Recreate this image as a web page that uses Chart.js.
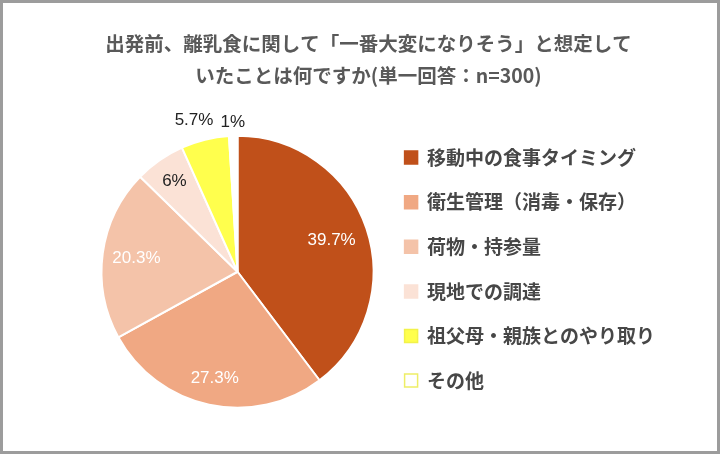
<!DOCTYPE html>
<html lang="ja">
<head>
<meta charset="utf-8">
<title>離乳食 想定</title>
<script src="https://cdn.jsdelivr.net/npm/chart.js@4.4.1/dist/chart.umd.min.js"></script>
<style>
  html, body { margin: 0; padding: 0; background: #fff; }
  .frame {
    width: 720px;
    height: 454px;
    box-sizing: border-box;
    border: 3px solid #9c9c9c;
    background: #fff;
  }
  .box { position: relative; width: 714px; height: 448px; }
</style>
</head>
<body>
<div class="frame">
  <div class="box"><canvas id="chartPie"></canvas></div>
</div>
<script>
const categories = [
  '移動中の食事タイミング',
  '衛生管理（消毒・保存）',
  '荷物・持参量',
  '現地での調達',
  '祖父母・親族とのやり取り',
  'その他'
];
const percents = [39.7, 27.3, 20.3, 6, 5.7, 1];
const percentLabels = ['39.7%', '27.3%', '20.3%', '6%', '5.7%', '1%'];

const sliceColors = ['#c0501a', '#f0a883', '#f4c3a9', '#fbe2d6', '#ffff4d', '#ffffff'];
const legendStroke = ['#c0501a', '#f0a883', '#f4c3a9', '#fbe2d6', '#f2f24a', '#eeee66'];

// label colour, distance from centre (fraction of radius) and small x nudge per slice
const labelColor = ['#ffffff', '#ffffff', '#ffffff', '#222222', '#222222', '#222222'];
const labelDist = [0.73, 0.80, 0.75, 0.81, 1.15, 1.10];
const labelNudge = [0, 0, 0, 0, -6, 0];

const sliceLabels = {
  id: 'sliceLabels',
  afterDatasetsDraw(chart) {
    const { ctx } = chart;
    const meta = chart.getDatasetMeta(0);
    ctx.save();
    ctx.font = '17px "Liberation Sans", Arial, sans-serif';
    ctx.textAlign = 'center';
    ctx.textBaseline = 'middle';
    meta.data.forEach((arc, i) => {
      const p = arc.getProps(['x', 'y', 'startAngle', 'endAngle', 'outerRadius'], true);
      const mid = (p.startAngle + p.endAngle) / 2;
      const r = p.outerRadius * labelDist[i];
      ctx.fillStyle = labelColor[i];
      ctx.fillText(percentLabels[i], p.x + Math.cos(mid) * r + labelNudge[i], p.y + Math.sin(mid) * r);
    });
    ctx.restore();
  }
};

// the legend box is kept narrow so the pie sits left; let its text run past the box edge
const legendRoom = {
  id: 'legendRoom',
  afterLayout(chart) {
    const lg = chart.legend;
    lg.right = chart.width;
    lg.width = lg.right - lg.left;
  }
};

const ctx = document.getElementById('chartPie').getContext('2d');

const chartPie = new Chart(ctx, {
  type: 'pie',
  data: {
    labels: categories,
    datasets: [{
      data: percents,
      backgroundColor: sliceColors,
      borderColor: '#ffffff',
      borderWidth: 2,
      radius: 136
    }]
  },
  options: {
    responsive: true,
    maintainAspectRatio: false,
    animation: false,
    layout: {
      padding: { left: 93, right: 76, top: 0, bottom: 30 }
    },
    plugins: {
      title: {
        display: true,
        text: ['出発前、離乳食に関して「一番大変になりそう」と想定して', 'いたことは何ですか(単一回答：n=300)'],
        color: '#595959',
        font: { family: '"Noto Sans CJK JP", sans-serif', size: 19.5, weight: 'bold', lineHeight: 32 / 19.5 },
        padding: { top: 25, bottom: 30.5 }
      },
      legend: {
        display: true,
        position: 'right',
        align: 'start',
        fullSize: false,
        maxWidth: 262,
        labels: {
          boxWidth: 13,
          boxHeight: 13,
          padding: 25.6,
          color: '#474747',
          font: { family: '"Noto Sans CJK JP", sans-serif', size: 19, weight: 'bold' },
          generateLabels(chart) {
            const items = Chart.overrides.pie.plugins.legend.labels.generateLabels(chart);
            items.forEach((item, i) => {
              item.strokeStyle = legendStroke[i];
              item.lineWidth = 1.5;
            });
            return items;
          }
        }
      },
      tooltip: { enabled: false }
    }
  },
  plugins: [sliceLabels, legendRoom]
});
</script>
</body>
</html>
